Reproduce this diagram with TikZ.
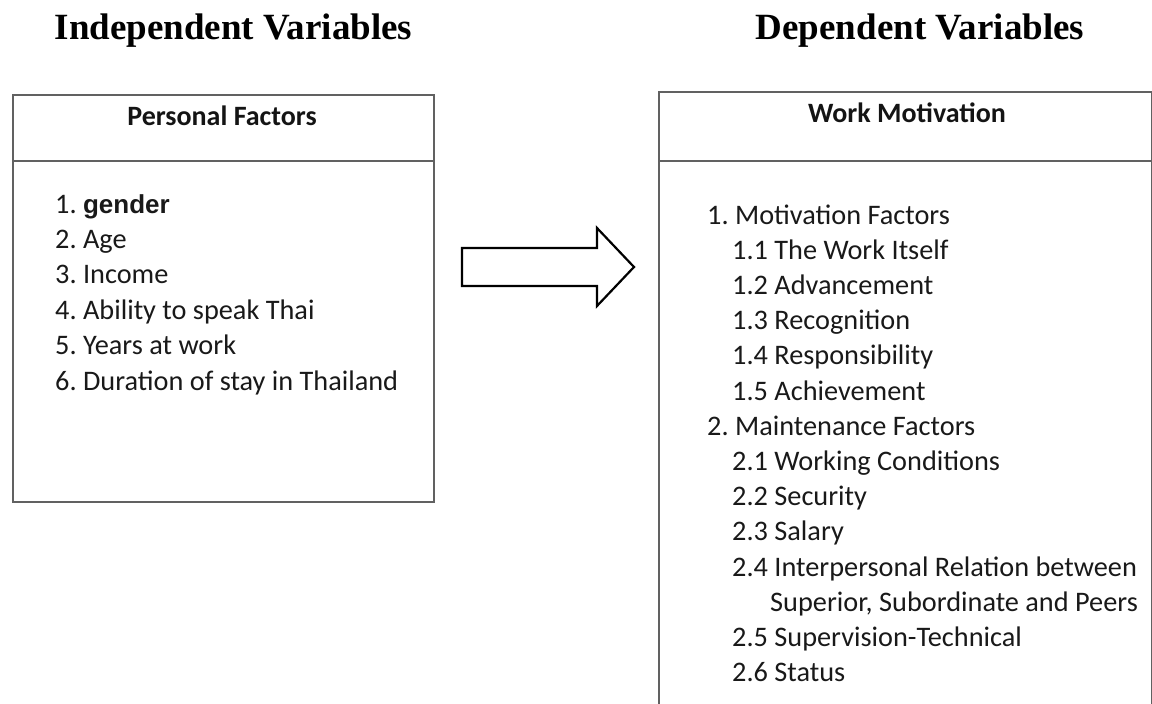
\documentclass[tikz,border=0pt]{standalone}
\usepackage{fontspec}
\setmainfont{Carlito}
\newfontfamily\timesf{Liberation Serif}
\newfontfamily\arialf{Liberation Sans}
\frenchspacing
\tikzset{
  box/.style={draw=black!62, line width=2.2pt, inner sep=0pt, anchor=north west},
  divider/.style={draw=black!62, line width=2.2pt},
  vartitle/.style={font=\timesf\bfseries\fontsize{37}{41}\selectfont, text=black, anchor=base, inner sep=0pt},
  boxhead/.style={font=\bfseries\fontsize{28}{34}\selectfont, text=black!92, anchor=base, inner sep=0pt},
  item/.style={font=\fontsize{28.3}{34}\selectfont, text=black!90, anchor=base west, inner sep=0pt},
  blockarrow/.style={draw=black, line width=2.2pt, line join=miter, fill=white}
}
\begin{document}
\begin{tikzpicture}[x=1pt,y=-1pt]
\useasboundingbox (0,0) rectangle (1152,704);
\clip (0,0) rectangle (1152,704);

% titles
\node[vartitle] (tind) at (233.5,39) {Independent Variables};
\node[vartitle] (tdep) at (920,39) {Dependent Variables};

% boxes
\node[box, minimum width=421pt, minimum height=407pt] (pf) at (12,94) {};
\node[box, minimum width=493pt, minimum height=640pt] (wm) at (658,91) {};
\coordinate (hline) at (0,161);
\draw[divider] (pf.west |- hline) -- (pf.east |- hline);
\draw[divider] (wm.west |- hline) -- (wm.east |- hline);

% headers
\node[boxhead] (pfh) at (222,125) {Personal Factors};
\node[boxhead] (wmh) at (907,122) {Work Motivation};

% left items
\node[item] (l1) at (55,213.0) {1. {\arialf\bfseries\fontsize{26}{30}\selectfont gender}};
\node[item] (l2) at (55,248.4) {2. Age};
\node[item] (l3) at (55,283.8) {3. Income};
\node[item] (l4) at (55,319.2) {4. Ability to speak Thai};
\node[item] (l5) at (55,354.6) {5. Years at work};
\node[item] (l6) at (55,390.0) {6. Duration of stay in Thailand};

% right items
\node[item] (r1)  at (707,224.0) {1. Motivation Factors};
\node[item] (r2)  at (732,259.2) {1.1 The Work Itself};
\node[item] (r3)  at (732,294.4) {1.2 Advancement};
\node[item] (r4)  at (732,329.6) {1.3 Recognition};
\node[item] (r5)  at (732,364.8) {1.4 Responsibility};
\node[item] (r6)  at (732,400.0) {1.5 Achievement};
\node[item] (r7)  at (707,435.2) {2. Maintenance Factors};
\node[item] (r8)  at (732,470.4) {2.1 Working Conditions};
\node[item] (r9)  at (732,505.6) {2.2 Security};
\node[item] (r10) at (732,540.8) {2.3 Salary};
\node[item] (r11) at (732,576.0) {2.4 Interpersonal Relation between};
\node[item] (r12) at (770,611.2) {Superior, Subordinate and Peers};
\node[item] (r13) at (732,646.4) {2.5 Supervision-Technical};
\node[item] (r14) at (732,681.6) {2.6 Status};

% block arrow
\draw[blockarrow] (462,248) -- (597,248) -- (597,228) -- (634,267) -- (597,306) -- (597,286) -- (462,286) -- cycle;
\end{tikzpicture}
\end{document}
